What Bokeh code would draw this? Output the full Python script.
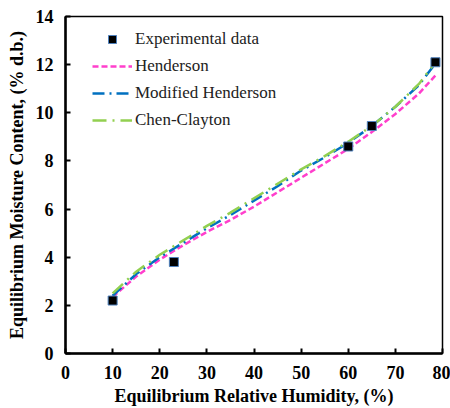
from bokeh.plotting import figure
from bokeh.models import Range1d, FixedTicker, Legend, LegendItem
from bokeh.embed import file_html
from bokeh.resources import INLINE

# Experimental data
exp_rh = [10, 23, 60, 65, 78.5]
exp_emc = [2.2, 3.8, 8.6, 9.45, 12.1]

# Model curves
rh_curve = [10, 15, 20, 25, 30, 35, 40, 45, 50, 55, 60, 65, 70, 75, 78.5]
henderson = [2.35, 3.2, 3.9, 4.5, 5.05, 5.55, 6.1, 6.7, 7.3, 7.9, 8.5, 9.2, 9.95, 10.8, 11.55]
mod_henderson = [2.4, 3.3, 4.0, 4.6, 5.2, 5.75, 6.35, 6.95, 7.6, 8.15, 8.75, 9.45, 10.25, 11.15, 12.05]
chen_clayton = [2.5, 3.4, 4.1, 4.7, 5.3, 5.85, 6.45, 7.05, 7.65, 8.2, 8.8, 9.45, 10.25, 11.2, 12.1]

x_ticks = [0, 10, 20, 30, 40, 50, 60, 70, 80]
y_ticks = [0, 2, 4, 6, 8, 10, 12, 14]

FONT = "'Liberation Serif', 'Times New Roman', serif"

p = figure(width=450, height=408, output_backend="svg", toolbar_location=None,
           x_range=Range1d(0, 80), y_range=Range1d(0, 14),
           min_border_left=65, min_border_right=8, min_border_top=16, min_border_bottom=52)
p.grid.visible = False
p.background_fill_color = "white"
p.border_fill_color = "white"
p.outline_line_color = "black"
p.outline_line_width = 1.5

r_h = p.line(rh_curve, henderson, line_color="#FF3FCC", line_width=2.5, line_dash="6 3")
r_m = p.line(rh_curve, mod_henderson, line_color="#0070C0", line_width=2.5, line_dash="12 5 2 5")
r_c = p.line(rh_curve, chen_clayton, line_color="#92D050", line_width=2.5, line_dash="14 6 2 6")
r_e = p.scatter(exp_rh, exp_emc, marker="square", size=9, fill_color="black",
                line_color="#4F81BD", line_width=1)

for ax in (p.xaxis[0], p.yaxis[0]):
    ax.axis_line_width = 2.5
    ax.axis_line_color = "black"
    ax.major_tick_in = 5
    ax.major_tick_out = 0
    ax.major_tick_line_width = 2
    ax.major_tick_line_color = "black"
    ax.minor_tick_line_color = None
    ax.major_label_text_font = FONT
    ax.major_label_text_font_style = "bold"
    ax.major_label_text_font_size = "18px"
    ax.major_label_text_color = "black"
    ax.axis_label_text_font = FONT
    ax.axis_label_text_font_style = "bold"
    ax.axis_label_text_font_size = "18px"
    ax.axis_label_text_color = "black"

p.xaxis.ticker = FixedTicker(ticks=x_ticks)
p.yaxis.ticker = FixedTicker(ticks=y_ticks)
p.xaxis.axis_label = "Equilibrium Relative Humidity, (%)"
p.yaxis.axis_label = "Equilibrium Moisture Content, (% d.b.)"
p.xaxis.major_label_standoff = 12
p.xaxis.axis_label_standoff = 4
p.yaxis.major_label_standoff = 12
p.yaxis.axis_label_standoff = 6

legend = Legend(items=[
    LegendItem(label="Experimental data", renderers=[r_e]),
    LegendItem(label="Henderson", renderers=[r_h]),
    LegendItem(label="Modified Henderson", renderers=[r_m]),
    LegendItem(label="Chen-Clayton", renderers=[r_c]),
], location=(27, 223))
legend.border_line_color = None
legend.background_fill_alpha = 0
legend.padding = 0
legend.margin = 0
legend.spacing = 7
legend.glyph_width = 40
legend.glyph_height = 20
legend.label_height = 20
legend.label_standoff = 3
legend.label_text_font = FONT
legend.label_text_font_size = "17px"
legend.label_text_color = "#222222"
p.add_layout(legend, "center")

open("out.html", "w").write(file_html(p, INLINE))
